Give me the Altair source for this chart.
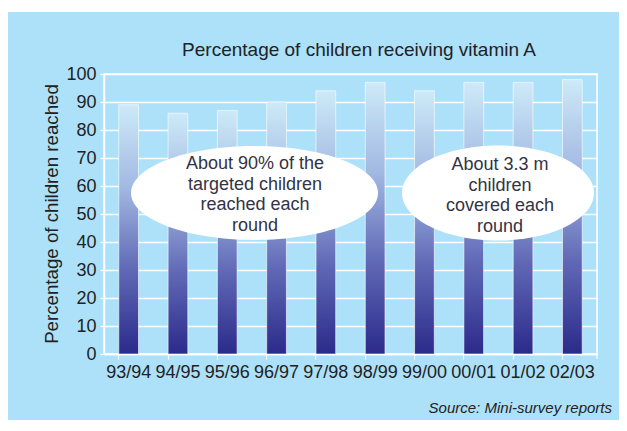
import altair as alt
import pandas as pd

# ---- data ----
periods = ["93/94", "94/95", "95/96", "96/97", "97/98", "98/99", "99/00", "00/01", "01/02", "02/03"]
coverage = [89, 86, 87, 90, 94, 97, 94, 97, 97, 98]
y_ticks = [0, 10, 20, 30, 40, 50, 60, 70, 80, 90, 100]
note_left = "About 90% of the\ntargeted children\nreached each\nround"
note_right = "About 3.3 m\nchildren\ncovered each\nround"
title_text = "Percentage of children receiving vitamin A"
y_title = "Percentage of children reached"
source_text = "Source: Mini-survey reports"

df = pd.DataFrame({"period": periods, "coverage": coverage})
one = pd.DataFrame({"k": [0]})

W, H = 493, 280
PANEL = "#ADE1F9"
TEXT = "#222222"
FONT = "Liberation Sans"

grad = alt.Gradient(
    gradient="linear",
    stops=[
        alt.GradientStop(color="#CDEAF8", offset=0),
        alt.GradientStop(color="#A2B9E2", offset=0.33),
        alt.GradientStop(color="#6069B6", offset=0.66),
        alt.GradientStop(color="#2B2A8A", offset=1),
    ],
    x1=0, x2=0, y1=0, y2=1,
)

top_strip = alt.Chart(one).mark_rect(color="white").encode(
    x=alt.value(-96), x2=alt.value(515), y=alt.value(-66), y2=alt.value(-62)
)

bars = alt.Chart(df).mark_bar(fill=grad, stroke="white", strokeOpacity=0.6, strokeWidth=1).encode(
    x=alt.X(
        "period:N", sort=periods,
        scale=alt.Scale(paddingInner=0.6, paddingOuter=0.3),
        axis=alt.Axis(title=None, labelAngle=0, bandPosition=0, tickSize=5, labelPadding=4,
                      grid=False),
    ),
    y=alt.Y(
        "coverage:Q", scale=alt.Scale(domain=[0, 100], nice=False),
        axis=alt.Axis(title=None, values=y_ticks, tickSize=4, labelPadding=4, grid=True),
    ),
)

end_tick = alt.Chart(one).mark_rule(color="white", strokeWidth=1.2).encode(
    x=alt.value(W), y=alt.value(H), y2=alt.value(H + 5)
)


def ellipse_path(ry):
    k = 0.5523
    return (f"M-1,0 C-1,{-ry*k:.3f} {-k:.3f},{-ry:.3f} 0,{-ry:.3f} "
            f"C{k:.3f},{-ry:.3f} 1,{-ry*k:.3f} 1,0 "
            f"C1,{ry*k:.3f} {k:.3f},{ry:.3f} 0,{ry:.3f} "
            f"C{-k:.3f},{ry:.3f} -1,{ry*k:.3f} -1,0 Z")


ell1 = alt.Chart(one).mark_point(
    shape=ellipse_path(0.38), size=247 ** 2, filled=True, fill="white", opacity=1, strokeWidth=0
).encode(x=alt.value(150.5), y=alt.value(119))

ell2 = alt.Chart(one).mark_point(
    shape=ellipse_path(0.495), size=192 ** 2, filled=True, fill="white", opacity=1, strokeWidth=0
).encode(x=alt.value(394), y=alt.value(119))

txt1 = alt.Chart(one).mark_text(
    text=note_left, lineBreak="\n", fontSize=18, lineHeight=20.5, color="#333344",
    align="center", baseline="middle", font=FONT
).encode(x=alt.value(151), y=alt.value(90))

txt2 = alt.Chart(one).mark_text(
    text=note_right, lineBreak="\n", fontSize=18, lineHeight=20.5, color="#333344",
    align="center", baseline="middle", font=FONT
).encode(x=alt.value(396), y=alt.value(91))

title = alt.Chart(one).mark_text(
    text=title_text, fontSize=19, color=TEXT, align="center", baseline="middle", font=FONT
).encode(x=alt.value(255), y=alt.value(-24))

ytitle = alt.Chart(one).mark_text(
    text=y_title, fontSize=18.7, color=TEXT, align="center", baseline="middle", angle=270, font=FONT
).encode(x=alt.value(-52), y=alt.value(140))

source = alt.Chart(one).mark_text(
    text=source_text, fontSize=15, fontStyle="italic", color=TEXT, align="right",
    baseline="middle", font=FONT
).encode(x=alt.value(508), y=alt.value(334))

chart = alt.layer(
    top_strip, bars, end_tick, ell1, ell2, txt1, txt2, title, ytitle, source
).properties(
    width=W, height=H,
    padding={"left": 96, "top": 66, "right": 22, "bottom": 66},
    autosize=alt.AutoSizeParams(type="none"),
    background=PANEL,
).configure(font=FONT).configure_view(
    stroke="white", strokeWidth=1.5
).configure_axis(
    labelFont=FONT, labelFontSize=18, labelColor=TEXT,
    tickColor="white", tickWidth=1.2, domainColor="white", domainWidth=1.5,
    gridColor="white", gridWidth=1.3, gridOpacity=1,
)

chart.save("out.html", embed_options={"renderer": "svg", "actions": False})
